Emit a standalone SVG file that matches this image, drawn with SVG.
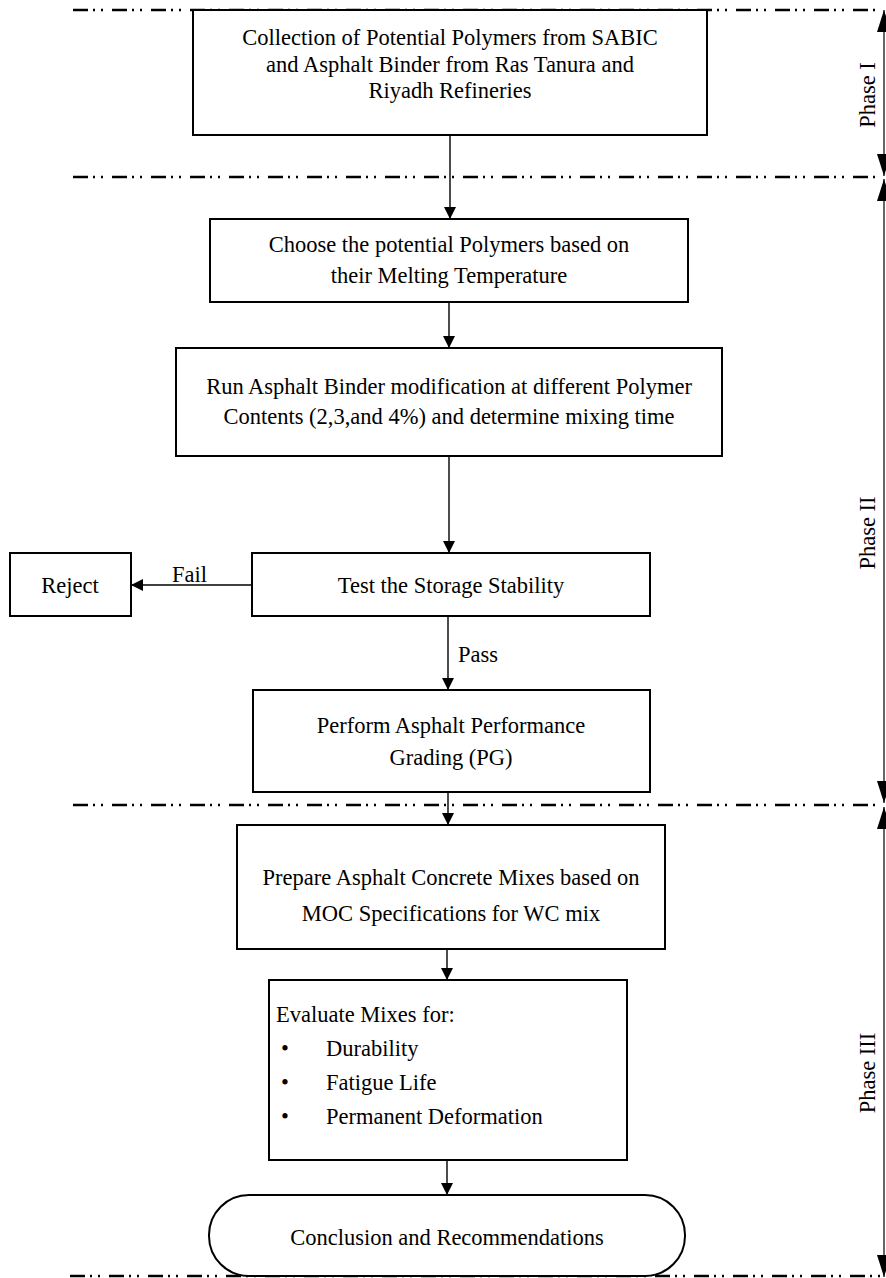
<svg xmlns="http://www.w3.org/2000/svg" width="886" height="1278" viewBox="0 0 886 1278">
<defs>
<marker id="ah" markerWidth="14" markerHeight="12" refX="12" refY="6" orient="auto" markerUnits="userSpaceOnUse"><path d="M0,0 L12,6 L0,12 Z" fill="#000"/></marker>
<marker id="ph" markerWidth="24" markerHeight="14" refX="22" refY="7" orient="auto-start-reverse" markerUnits="userSpaceOnUse"><path d="M0,0 L22,7 L0,14 Z" fill="#000"/></marker>
</defs>
<style>
.box{fill:#fff;stroke:#000;stroke-width:2}
.t{font-family:"Liberation Serif","Times New Roman",serif;font-size:22.5px;fill:#000}
.c{text-anchor:middle}
.dash{stroke:#000;stroke-width:2.5;fill:none;stroke-dasharray:15 5 2 6 2 9}
.ln{stroke:#000;stroke-width:1.4;fill:none}
.ph{stroke:#000;stroke-width:1.2;fill:none}
</style>
<rect width="886" height="1278" fill="#fff"/>
<g id="phase-lines">
<line class="dash" x1="73" y1="10" x2="880" y2="10"/>
<line class="dash" x1="73" y1="177" x2="880" y2="177"/>
<line class="dash" x1="73" y1="805" x2="880" y2="805"/>
<line class="dash" x1="70" y1="1276" x2="880" y2="1276"/>
</g>
<g id="phase-arrows">
<line class="ph" x1="884" y1="10" x2="884" y2="176" marker-start="url(#ph)" marker-end="url(#ph)"/>
<line class="ph" x1="884" y1="179" x2="884" y2="803" marker-start="url(#ph)" marker-end="url(#ph)"/>
<line class="ph" x1="884" y1="807" x2="884" y2="1277" marker-start="url(#ph)" marker-end="url(#ph)"/>
<text class="t c" transform="translate(875,95) rotate(-90)">Phase I</text>
<text class="t c" transform="translate(875,533) rotate(-90)">Phase II</text>
<text class="t c" transform="translate(875,1073) rotate(-90)">Phase III</text>
</g>
<g id="connectors">
<line class="ln" x1="450" y1="135" x2="450" y2="219" marker-end="url(#ah)"/>
<line class="ln" x1="449" y1="302" x2="449" y2="348" marker-end="url(#ah)"/>
<line class="ln" x1="449" y1="456" x2="449" y2="553" marker-end="url(#ah)"/>
<line class="ln" x1="252" y1="585" x2="131" y2="585" marker-end="url(#ah)"/>
<text class="t" x="172" y="582">Fail</text>
<line class="ln" x1="448" y1="616" x2="448" y2="690" marker-end="url(#ah)"/>
<text class="t" x="458" y="662">Pass</text>
<line class="ln" x1="448" y1="792" x2="448" y2="825" marker-end="url(#ah)"/>
<line class="ln" x1="447" y1="949" x2="447" y2="980" marker-end="url(#ah)"/>
<line class="ln" x1="447" y1="1160" x2="447" y2="1195" marker-end="url(#ah)"/>
</g>
<g id="collection">
<rect class="box" x="193" y="10" width="514" height="125"/>
<text class="t c" x="450" y="45">Collection of Potential Polymers from SABIC</text>
<text class="t c" x="450" y="72">and Asphalt Binder from Ras Tanura and</text>
<text class="t c" x="450" y="98">Riyadh Refineries</text>
</g>
<g id="choose">
<rect class="box" x="210" y="219" width="478" height="83"/>
<text class="t c" x="449" y="252">Choose the potential Polymers based on</text>
<text class="t c" x="449" y="283">their Melting Temperature</text>
</g>
<g id="run">
<rect class="box" x="176" y="348" width="546" height="108"/>
<text class="t c" x="449" y="394">Run Asphalt Binder modification at different Polymer</text>
<text class="t c" x="449" y="424">Contents (2,3,and 4%) and determine mixing time</text>
</g>
<g id="test">
<rect class="box" x="252" y="553" width="398" height="63"/>
<text class="t c" x="451" y="593">Test the Storage Stability</text>
</g>
<g id="reject">
<rect class="box" x="10" y="553" width="121" height="63"/>
<text class="t c" x="70" y="593">Reject</text>
</g>
<g id="perform">
<rect class="box" x="253" y="690" width="397" height="102"/>
<text class="t c" x="451" y="733">Perform Asphalt Performance</text>
<text class="t c" x="451" y="765">Grading (PG)</text>
</g>
<g id="prepare">
<rect class="box" x="237" y="825" width="428" height="124"/>
<text class="t c" x="451" y="885">Prepare Asphalt Concrete Mixes based on</text>
<text class="t c" x="451" y="921">MOC Specifications for WC mix</text>
</g>
<g id="evaluate">
<rect class="box" x="269" y="980" width="358" height="180"/>
<text class="t" x="276" y="1022">Evaluate Mixes for:</text>
<text class="t" x="281" y="1056">•</text><text class="t" x="326" y="1056">Durability</text>
<text class="t" x="281" y="1090">•</text><text class="t" x="326" y="1090">Fatigue Life</text>
<text class="t" x="281" y="1124">•</text><text class="t" x="326" y="1124">Permanent Deformation</text>
</g>
<g id="conclusion">
<rect class="box" x="209" y="1195" width="476" height="81" rx="40" ry="40"/>
<text class="t c" x="447" y="1245">Conclusion and Recommendations</text>
</g>
</svg>
